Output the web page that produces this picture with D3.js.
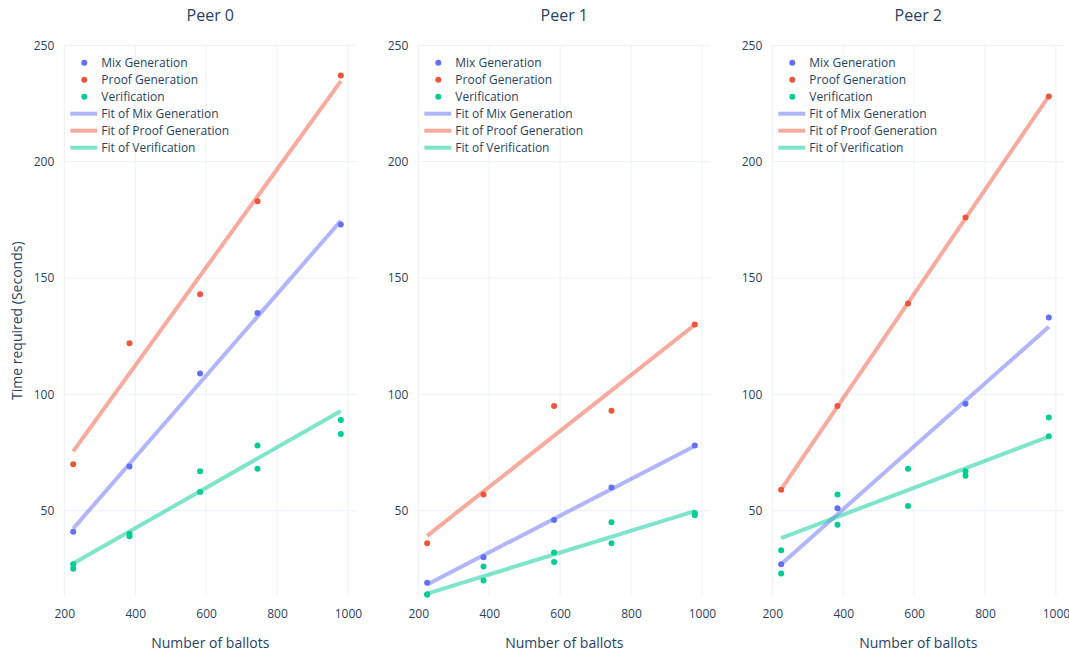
<!DOCTYPE html>
<html>
<head>
<meta charset="utf-8">
<script src="https://cdn.jsdelivr.net/npm/d3@7"></script>
<style>
  html, body { margin: 0; padding: 0; background: #fff; }
  svg { display: block; font-family: "Open Sans", "Noto Sans", sans-serif; }
</style>
</head>
<body>
<svg id="chart" width="1069" height="655"></svg>
<script>
// Ballot counts measured (x values shared by every peer)
const ballots = [225, 384, 583, 745, 980];
const peerNames = ["Peer 0", "Peer 1", "Peer 2"];

// Time in seconds, one row per peer
const mixTimes   = [[41, 69, 109, 135, 173], [19, 30, 46, 60, 78], [27, 51, null, 96, 133]];
const proofTimes = [[70, 122, 143, 183, 237], [36, 57, 95, 93, 130], [59, 95, 139, 176, 228]];
// Verification was timed twice per ballot count
const verifyRunA = [[27, 40, 67, 78, 89], [14, 26, 32, 45, 49], [33, 57, 68, 67, 90]];
const verifyRunB = [[25, 39, 58, 68, 83], [14, 20, 28, 36, 48], [23, 44, 52, 65, 82]];

// Linear fits: value at the first and the last ballot count
const mixFit    = [[42.3, 174.6], [18.3, 77.8], [27, 129]];
const proofFit  = [[75.5, 234.6], [39.2, 129.9], [59.2, 228.2]];
const verifyFit = [[27.3, 92.8], [14.4, 49.8], [38.2, 81.8]];

const xTicks = [200, 400, 600, 800, 1000];
const yTicks = [50, 100, 150, 200, 250];

const seriesNames = ["Mix Generation", "Proof Generation", "Verification"];
const colors = ["#636efa", "#EF553B", "#00cc96"];

const svg = d3.select("#chart");
const textColor = "#2a3f5f";
const gridColor = "#ebf0f8";

const plotTop = 45.3, plotBottom = 596.1;
const plotWidth = 292, plotStep = 354, plotLeft0 = 64.3;
const xMax = 200 + plotWidth / 0.3545;

peerNames.forEach((name, p) => {
  const left = plotLeft0 + p * plotStep;
  const x = d3.scaleLinear().domain([200, xMax]).range([left, left + plotWidth]);
  const y = d3.scaleLinear().domain([13.3, 250]).range([plotBottom, plotTop]);

  const g = svg.append("g");

  // grid
  g.append("g").selectAll("line").data(xTicks).join("line")
    .attr("x1", d => x(d)).attr("x2", d => x(d))
    .attr("y1", plotTop).attr("y2", plotBottom)
    .attr("stroke", gridColor).attr("stroke-width", 1);
  g.append("g").selectAll("line").data(yTicks).join("line")
    .attr("x1", left).attr("x2", left + plotWidth)
    .attr("y1", d => y(d)).attr("y2", d => y(d))
    .attr("stroke", gridColor).attr("stroke-width", 1);

  // axes (labels only)
  const xAxis = g.append("g").attr("transform", `translate(0,${plotBottom})`)
    .call(d3.axisBottom(x).tickValues(xTicks).tickFormat(d3.format("d")).tickSize(0).tickPadding(13));
  const yAxis = g.append("g").attr("transform", `translate(${left},0)`)
    .call(d3.axisLeft(y).tickValues(yTicks).tickFormat(d3.format("d")).tickSize(0).tickPadding(10));
  [xAxis, yAxis].forEach(a => {
    a.select(".domain").remove();
    a.selectAll("text").attr("fill", textColor).attr("font-size", 12)
      .attr("font-family", "\"Open Sans\", sans-serif");
  });

  // title
  g.append("text").attr("x", left + plotWidth / 2).attr("y", 21)
    .attr("text-anchor", "middle").attr("fill", textColor)
    .attr("font-size", 16).text(name);

  // x axis title
  g.append("text").attr("x", left + plotWidth / 2).attr("y", 648)
    .attr("text-anchor", "middle").attr("fill", textColor)
    .attr("font-size", 14).text("Number of ballots");

  // fit lines
  const fits = [mixFit[p], proofFit[p], verifyFit[p]];
  const xEnds = [ballots[0], ballots[ballots.length - 1]];
  const line = d3.line().x(d => x(d[0])).y(d => y(d[1]));
  fits.forEach((f, i) => {
    g.append("path")
      .datum(xEnds.map((xv, k) => [xv, f[k]]))
      .attr("d", line)
      .attr("fill", "none")
      .attr("stroke", colors[i])
      .attr("stroke-opacity", 0.5)
      .attr("stroke-width", 4);
  });

  // points
  const pointSets = [
    { vals: mixTimes[p], c: 0 },
    { vals: proofTimes[p], c: 1 },
    { vals: verifyRunA[p], c: 2 },
    { vals: verifyRunB[p], c: 2 }
  ];
  pointSets.forEach(s => {
    const pts = ballots.map((b, k) => [b, s.vals[k]]).filter(d => d[1] != null);
    g.append("g").selectAll("circle").data(pts).join("circle")
      .attr("cx", d => x(d[0])).attr("cy", d => y(d[1]))
      .attr("r", 3).attr("fill", colors[s.c]);
  });

  // legend
  const lg = g.append("g").attr("transform", `translate(${left},0)`);
  const rowY = [62.7, 79.7, 96.7, 113.7, 130.7, 147.7];
  seriesNames.forEach((n, i) => {
    lg.append("circle").attr("cx", 20).attr("cy", rowY[i]).attr("r", 3).attr("fill", colors[i]);
    lg.append("text").attr("x", 37).attr("y", rowY[i]).attr("dy", "0.35em")
      .attr("fill", textColor).attr("font-size", 12).text(n);
  });
  seriesNames.forEach((n, i) => {
    const yy = rowY[i + 3];
    lg.append("line").attr("x1", 6).attr("x2", 33).attr("y1", yy).attr("y2", yy)
      .attr("stroke", colors[i]).attr("stroke-opacity", 0.5).attr("stroke-width", 4);
    lg.append("text").attr("x", 37).attr("y", yy).attr("dy", "0.35em")
      .attr("fill", textColor).attr("font-size", 12).text("Fit of " + n);
  });
});

// shared y axis title
svg.append("text")
  .attr("transform", `translate(22,${(plotTop + plotBottom) / 2}) rotate(-90)`)
  .attr("text-anchor", "middle").attr("fill", textColor)
  .attr("font-size", 14).text("Time required (Seconds)");
</script>
</body>
</html>
